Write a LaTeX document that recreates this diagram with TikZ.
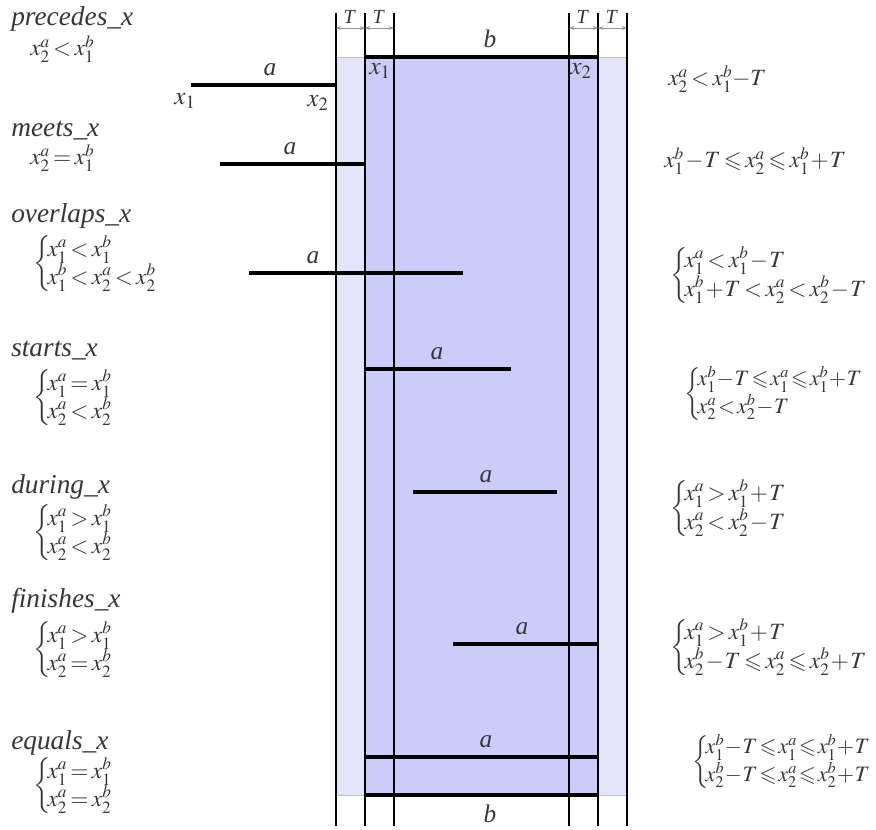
\documentclass[tikz,border=0pt]{standalone}
\usepackage{amssymb}
\usepackage{mathptmx}
\usepackage[no-math]{fontspec}
\setmainfont{Liberation Serif}
\usetikzlibrary{arrows.meta}
\definecolor{bandout}{RGB}{228,228,250}
\definecolor{bandin}{RGB}{204,204,250}
\definecolor{arrgrey}{RGB}{150,150,150}
\definecolor{txt}{RGB}{55,55,55}
\tikzset{
  vline/.style={line width=1.1pt, black},
  bar/.style={line width=3pt, black},
  tarrow/.style={arrgrey, line width=0.6pt, {Stealth[length=4pt,width=3pt]}-{Stealth[length=4pt,width=3pt]}},
  relname/.style={anchor=west, inner sep=0pt, text=txt, font=\fontsize{20.5}{23}\selectfont\itshape},
  frm/.style={anchor=west, inner sep=0pt, text=txt, font=\fontsize{17.5}{20}\selectfont},
  frms/.style={frm, font=\fontsize{16.5}{19}\selectfont},
  lab/.style={inner sep=0pt, text=txt, font=\fontsize{19}{22}\selectfont\itshape},
  tlab/.style={inner sep=0pt, text=txt, font=\fontsize{15}{17}\selectfont\itshape},
}
\newcommand{\cs}[2]{\left\{\mskip-2.5mu\begin{array}{@{}l@{}}#1\\#2\end{array}\right.}
\begin{document}
\begin{tikzpicture}[x=0.75pt,y=-0.75pt]
\useasboundingbox (0,0) rectangle (876,830);
\thickmuskip=2.5mu plus 1mu
\medmuskip=1mu
% bands
\fill[bandout] (336,57) rectangle (627,795);
\fill[bandin] (365,57) rectangle (598,795);
\draw[black!25, line width=0.5pt] (336,57) -- (627,57) (336,795) -- (627,795);
% vertical lines
\foreach \n/\x in {v1/336,v2/365,v3/394,v4/569,v5/598,v6/627}{
  \coordinate (\n t) at (\x,13);
  \coordinate (\n b) at (\x,826);
  \coordinate (\n a) at (\x,28);
  \draw[vline] (\n t) -- (\n b);
}
% T arrows
\draw[tarrow] (v1a) -- node[tlab, above=3pt, xshift=-1pt] {T} (v2a);
\draw[tarrow] (v2a) -- node[tlab, above=3pt, xshift=-1pt] {T} (v3a);
\draw[tarrow] (v4a) -- node[tlab, above=3pt, xshift=-1pt] {T} (v5a);
\draw[tarrow] (v5a) -- node[tlab, above=3pt, xshift=-1pt] {T} (v6a);
% b bars
\coordinate (bt1) at (365,57); \coordinate (bt2) at (598,57);
\coordinate (bb1) at (365,795); \coordinate (bb2) at (598,795);
\draw[bar] (bt1) -- (bt2);
\draw[bar] (bb1) -- (bb2);
\node[lab] (blabt) at (490,39) {b};
\node[lab] (blabb) at (490,814) {b};
\node[lab] (bx1) at (380,71) {$x_1$};
\node[lab] (bx2) at (581,71) {$x_2$};
% a bars
\foreach \n/\xa/\xb/\y/\lx in {pr/191/336/85/270, me/220/365/164/290, ov/249/463/273/313, st/365/511/369/437, du/413/557/492/486, fi/453/598/644/522, eq/365/598/757/486}{
  \coordinate (\n1) at (\xa,\y);
  \coordinate (\n2) at (\xb,\y);
  \draw[bar] (\n1) -- (\n2);
  \node[lab] (\n lab) at (\lx,\y-15) {a};
}
\node[lab] (prx1) at (185,101) {$x_1$};
\node[lab] (prx2) at (318,103) {$x_2$};
% left names
\node[relname] (n1) at (11,19) {precedes\_x};
\node[relname] (n2) at (11,131) {meets\_x};
\node[relname] (n3) at (11,216) {overlaps\_x};
\node[relname] (n4) at (11,351) {starts\_x};
\node[relname] (n5) at (11,487) {during\_x};
\node[relname] (n6) at (11,601) {finishes\_x};
\node[relname] (n7) at (11,743) {equals\_x};
% left formulas
\node[frm] (l1) at (30,49) {$x_2^a<x_1^b$};
\node[frm] (l2) at (30,158) {$x_2^a=x_1^b$};
\def\arraystretch{0.97}
\node[frm] (l3) at (33,264) {$\cs{x_1^a<x_1^b}{x_1^b<x_2^a<x_2^b}$};
\node[frm] (l4) at (33,398) {$\cs{x_1^a=x_1^b}{x_2^a<x_2^b}$};
\node[frm] (l5) at (33,533) {$\cs{x_1^a>x_1^b}{x_2^a<x_2^b}$};
\node[frm] (l6) at (33,650) {$\cs{x_1^a>x_1^b}{x_2^a=x_2^b}$};
\node[frm] (l7) at (33,786) {$\cs{x_1^a=x_1^b}{x_2^a=x_2^b}$};
% right formulas
\def\arraystretch{1.08}
\node[frm] (r1) at (668,79) {$x_2^a<x_1^b\mskip-1mu-\mskip-1mu T$};
\node[frm] (r2) at (664,161) {$x_1^b-T\leqslant x_2^a\leqslant x_1^b+T$};
\node[frm] (r3) at (670,276) {$\cs{x_1^a<x_1^b-T}{x_1^b+T<x_2^a<x_2^b-T}$};
\node[frms] (r4) at (684,394) {\thickmuskip=1.5mu\medmuskip=0.5mu$\cs{x_1^b-T\leqslant x_1^a\leqslant x_1^b+T}{x_2^a<x_2^b-T}$};
\node[frm] (r5) at (670,509) {$\cs{x_1^a>x_1^b+T}{x_2^a<x_2^b-T}$};
\node[frm] (r6) at (670,648) {$\cs{x_1^a>x_1^b+T}{x_2^b-T\leqslant x_2^a\leqslant x_2^b+T}$};
\node[frms] (r7) at (692,762) {\thickmuskip=1.5mu\medmuskip=0.5mu$\cs{x_1^b-T\leqslant x_1^a\leqslant x_1^b+T}{x_2^b-T\leqslant x_2^a\leqslant x_2^b+T}$};
\end{tikzpicture}
\end{document}
